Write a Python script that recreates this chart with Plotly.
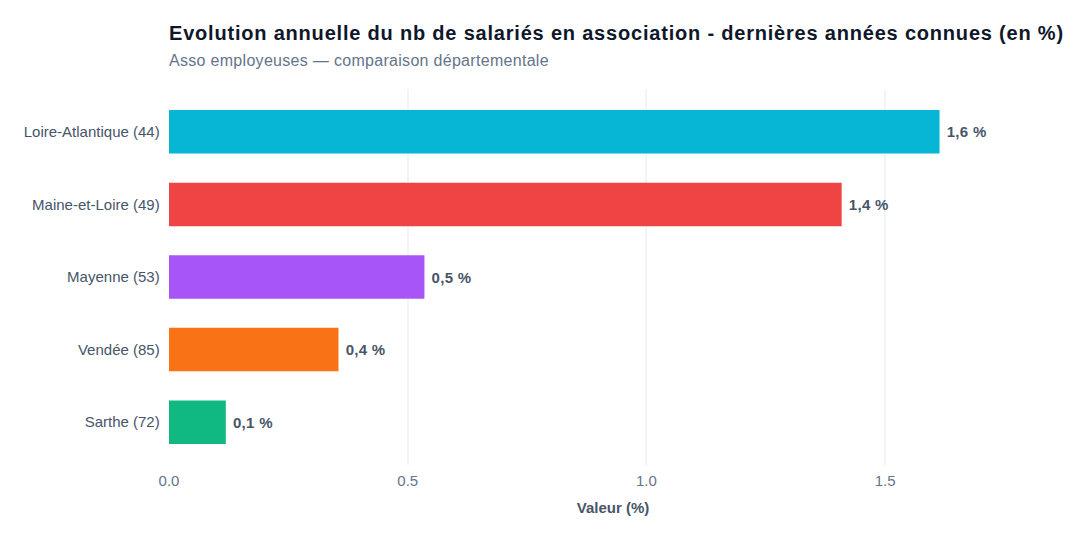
import plotly.graph_objects as go

categories = ["Loire-Atlantique (44)", "Maine-et-Loire (49)", "Mayenne (53)", "Vendée (85)", "Sarthe (72)"]
values = [1.614, 1.409, 0.535, 0.355, 0.119]
labels = ["1,6 %", "1,4 %", "0,5 %", "0,4 %", "0,1 %"]
colors = ["#06b6d4", "#ef4444", "#a855f7", "#f97316", "#10b981"]
x_ticks = [0.0, 0.5, 1.0, 1.5]
x_tick_labels = ["0.0", "0.5", "1.0", "1.5"]

FONT = "Liberation Sans, Arial, Helvetica, sans-serif"

fig = go.Figure(go.Bar(
    y=categories,
    x=values,
    orientation="h",
    marker=dict(color=colors, line=dict(width=0)),
    width=0.6,
    text=labels,
    textposition="outside",
    textfont=dict(family=FONT, size=15, color="#475569"),
    texttemplate="\u00a0<b><span style='letter-spacing:0.3px'>%{text}</span></b>",
    cliponaxis=False,
    hoverinfo="skip",
))

fig.update_layout(
    width=1080,
    height=540,
    margin=dict(l=169, r=23, t=89, b=75),
    paper_bgcolor="white",
    plot_bgcolor="white",
    font=dict(family=FONT, color="#475569"),
    showlegend=False,
    title=dict(
        text="<b><span style='letter-spacing:0.8px'>Evolution annuelle du nb de salariés en association - dernières années connues (en %)</span></b>",
        x=169 / 1080,
        xanchor="left",
        xref="container",
        y=1 - 33 / 540,
        yanchor="middle",
        yref="container",
        font=dict(family=FONT, size=20, color="#0f172a"),
    ),
    annotations=[
        dict(
            text="<span style='letter-spacing:0.3px'>Asso employeuses — comparaison départementale</span>",
            xref="paper", yref="paper",
            x=0, y=(465 - 61) / 376,
            xanchor="left", yanchor="middle",
            xshift=-2,
            showarrow=False,
            font=dict(family=FONT, size=16, color="#64748b"),
        )
    ],
    xaxis=dict(
        range=[0, 1.86],
        tickvals=x_ticks,
        ticktext=x_tick_labels,
        showgrid=True,
        gridcolor="#f1f5f9",
        gridwidth=2,
        zeroline=False,
        showline=False,
        ticks="",
        ticklabelstandoff=5,
        tickfont=dict(family=FONT, size=15, color="#64748b"),
        title=dict(text="<b>Valeur (%)</b>", font=dict(family=FONT, size=15, color="#475569"), standoff=14),
    ),
    yaxis=dict(
        categoryorder="array",
        categoryarray=categories[::-1],
        range=[-0.59, 4.59],
        showgrid=False,
        zeroline=False,
        showline=False,
        ticks="",
        ticksuffix="  ",
        tickfont=dict(family=FONT, size=15, color="#475569"),
    ),
)

fig.write_html("out.html")
